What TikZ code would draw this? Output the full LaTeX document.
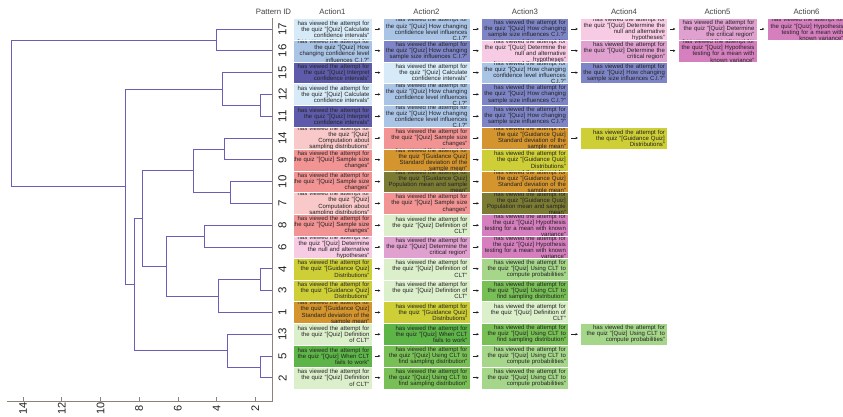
\documentclass[tikz,border=0pt]{standalone}
\usepackage{fontspec}
\setmainfont{Liberation Sans}
\usetikzlibrary{arrows.meta}

\definecolor{linkblue}{RGB}{107,95,181}
\definecolor{axisgray}{RGB}{138,132,120}
\definecolor{inkgray}{RGB}{34,34,34}
\definecolor{colCalc}{RGB}{214,234,247}
\definecolor{colLevel}{RGB}{170,196,230}
\definecolor{colSize}{RGB}{126,133,198}
\definecolor{colInterp}{RGB}{94,92,170}
\definecolor{colComp}{RGB}{249,201,201}
\definecolor{colChange}{RGB}{242,148,148}
\definecolor{colStd}{RGB}{212,149,46}
\definecolor{colPop}{RGB}{123,123,52}
\definecolor{colDef}{RGB}{220,239,203}
\definecolor{colNull}{RGB}{246,203,227}
\definecolor{colCrit}{RGB}{224,160,208}
\definecolor{colDist}{RGB}{206,207,54}
\definecolor{colFail}{RGB}{93,180,71}
\definecolor{colFind}{RGB}{120,192,85}
\definecolor{colProb}{RGB}{165,214,138}
\definecolor{colHyp}{RGB}{213,127,191}

\newcommand{\txtCalc}{has viewed the attempt for\\the quiz "[Quiz] Calculate\\confidence intervals"}
\newcommand{\txtLevel}{has viewed the attempt for\\the quiz "[Quiz] How changing\\confidence level influences\\C.I.?"}
\newcommand{\txtLevelN}{has viewed the attempt for\\the quiz "[Quiz] How\\changing confidence level\\influences C.I.?"}
\newcommand{\txtSize}{has viewed the attempt for\\the quiz "[Quiz] How changing\\sample size influences C.I.?"}
\newcommand{\txtInterp}{has viewed the attempt for\\the quiz "[Quiz] Interpret\\confidence intervals"}
\newcommand{\txtComp}{has viewed the attempt for\\the quiz "[Quiz]\\Computation about\\sampling distributions"}
\newcommand{\txtChange}{has viewed the attempt for\\the quiz "[Quiz] Sample size\\changes"}
\newcommand{\txtStd}{has viewed the attempt for\\the quiz "[Guidance Quiz]\\Standard deviation of the\\sample mean"}
\newcommand{\txtPop}{has viewed the attempt for\\the quiz "[Guidance Quiz]\\Population mean and sample\\mean"}
\newcommand{\txtDef}{has viewed the attempt for\\the quiz "[Quiz] Definition of\\CLT"}
\newcommand{\txtDefN}{has viewed the attempt for\\the quiz "[Quiz] Definition\\of CLT"}
\newcommand{\txtNull}{has viewed the attempt for\\the quiz "[Quiz] Determine the\\null and alternative\\hypotheses"}
\newcommand{\txtNullN}{has viewed the attempt for\\the quiz "[Quiz] Determine\\the null and alternative\\hypotheses"}
\newcommand{\txtCrit}{has viewed the attempt for\\the quiz "[Quiz] Determine the\\critical region"}
\newcommand{\txtCritN}{has viewed the attempt for\\the quiz "[Quiz] Determine\\the critical region"}
\newcommand{\txtDist}{has viewed the attempt for\\the quiz "[Guidance Quiz]\\Distributions"}
\newcommand{\txtFail}{has viewed the attempt for\\the quiz "[Quiz] When CLT\\fails to work"}
\newcommand{\txtFind}{has viewed the attempt for\\the quiz "[Quiz] Using CLT to\\find sampling distribution"}
\newcommand{\txtProb}{has viewed the attempt for\\the quiz "[Quiz] Using CLT to\\compute probabilities"}
\newcommand{\txtHyp}{has viewed the attempt for\\the quiz "[Quiz] Hypothesis\\testing for a mean with known\\variance"}
\newcommand{\txtHypN}{has viewed the attempt for\\the quiz "[Quiz] Hypothesis\\testing for a mean with\\known variance"}

\tikzset{
  link/.style={draw=linkblue, line width=0.8pt},
  axisline/.style={draw=axisgray, line width=0.8pt},
  ticklabel/.style={rotate=90, font=\fontsize{11}{11}\selectfont, text=inkgray, inner sep=0pt},
  leaf/.style={rotate=90, font=\fontsize{11.5}{11.5}\selectfont, text=inkgray, inner sep=0pt},
  head/.style={font=\fontsize{7.8}{8}\selectfont, text=inkgray!85, inner sep=0pt},
  celltext/.style={anchor=east, inner sep=0pt, text width=100pt, align=right,
    font=\fontsize{6}{6.1}\selectfont, text=inkgray, fill=none, draw=none},
  cell/.style 2 args={fill=#1, draw=white, line width=0.3pt, inner sep=0pt,
    minimum height=21.8pt,
    path picture={\node[celltext] at ([xshift=-2.5pt]path picture bounding box.east) {#2};}},
  narrow/.style={minimum width=79pt},
  wide/.style={minimum width=87pt},
  flow/.style={-{Stealth[length=2.4pt,width=2.4pt]}, draw=inkgray, line width=0.7pt,
    shorten <=2.5pt, shorten >=2.5pt},
}

\begin{document}
\begin{tikzpicture}[x=1pt,y=-1pt]
  \useasboundingbox (0,0) rectangle (843,416);

  % dendrogram
  \draw[link] (272,29) -- (216,29) -- (216,50.8) -- (272,50.8);
  \draw[link] (272,94.4) -- (260,94.4) -- (260,116.2) -- (272,116.2);
  \draw[link] (272,72.6) -- (222,72.6) -- (222,105.3) -- (260,105.3);
  \draw[link] (272,138) -- (224,138) -- (224,159.8) -- (272,159.8);
  \draw[link] (272,181.6) -- (230,181.6) -- (230,203.4) -- (272,203.4);
  \draw[link] (224,148.9) -- (193,148.9) -- (193,192.5) -- (230,192.5);
  \draw[link] (272,225.2) -- (204,225.2) -- (204,247) -- (272,247);
  \draw[link] (272,268.8) -- (260,268.8) -- (260,290.6) -- (272,290.6);
  \draw[link] (260,279.7) -- (218,279.7) -- (218,312.4) -- (272,312.4);
  \draw[link] (204,236.1) -- (166,236.1) -- (166,296.05) -- (218,296.05);
  \draw[link] (193,170.7) -- (142,170.7) -- (142,266.08) -- (166,266.08);
  \draw[link] (272,356) -- (260,356) -- (260,377.8) -- (272,377.8);
  \draw[link] (272,334.2) -- (227,334.2) -- (227,366.9) -- (260,366.9);
  \draw[link] (142,218.39) -- (134,218.39) -- (134,350.55) -- (227,350.55);
  \draw[link] (222,88.95) -- (125,88.95) -- (125,284.47) -- (134,284.47);
  \draw[link] (216,39.9) -- (11,39.9) -- (11,186.71) -- (125,186.71);

  % axes
  \draw[axisline] (7,401) -- (272,401) -- (272,18);
  \draw[axisline] (23.1,401) -- (23.1,397) (61.8,401) -- (61.8,397)
    (100.5,401) -- (100.5,397) (139.2,401) -- (139.2,397)
    (177.9,401) -- (177.9,397) (216.6,401) -- (216.6,397) (255.3,401) -- (255.3,397);
  \node[ticklabel] (t14) at (23.1,408.5) {14};
  \node[ticklabel] (t12) at (61.8,408.5) {12};
  \node[ticklabel] (t10) at (100.5,408.5) {10};
  \node[ticklabel] (t8) at (139.2,408.5) {8};
  \node[ticklabel] (t6) at (177.9,408.5) {6};
  \node[ticklabel] (t4) at (216.6,408.5) {4};
  \node[ticklabel] (t2) at (255.3,408.5) {2};

  % pattern ids
  \node[leaf] (id17) at (282.5,29) {17};
  \node[leaf] (id16) at (282.5,50.8) {16};
  \node[leaf] (id15) at (282.5,72.6) {15};
  \node[leaf] (id12) at (282.5,94.4) {12};
  \node[leaf] (id11) at (282.5,116.2) {11};
  \node[leaf] (id14) at (282.5,138) {14};
  \node[leaf] (id9) at (282.5,159.8) {9};
  \node[leaf] (id10) at (282.5,181.6) {10};
  \node[leaf] (id7) at (282.5,203.4) {7};
  \node[leaf] (id8) at (282.5,225.2) {8};
  \node[leaf] (id6) at (282.5,247) {6};
  \node[leaf] (id4) at (282.5,268.8) {4};
  \node[leaf] (id3) at (282.5,290.6) {3};
  \node[leaf] (id1) at (282.5,312.4) {1};
  \node[leaf] (id13) at (282.5,334.2) {13};
  \node[leaf] (id5) at (282.5,356) {5};
  \node[leaf] (id2) at (282.5,377.8) {2};

  % headers
  \node[head] (pid) at (273.5,12) {Pattern ID};
  \node[head] (h1) at (332.5,12) {Action1};
  \node[head] (h2) at (426.5,12) {Action2};
  \node[head] (h3) at (525,12) {Action3};
  \node[head] (h4) at (624,12) {Action4};
  \node[head] (h5) at (717.5,12) {Action5};
  \node[head] (h6) at (806.5,12) {Action6};

  % action cells
  \node[cell={colCalc}{\txtCalc}, narrow] (a1-17) at (332.5,29) {};
  \node[cell={colLevel}{\txtLevel}, wide] (a2-17) at (426.5,29) {};
  \node[cell={colSize}{\txtSize}, wide] (a3-17) at (525,29) {};
  \node[cell={colNull}{\txtNull}, wide] (a4-17) at (624,29) {};
  \node[cell={colCrit}{\txtCritN}, narrow] (a5-17) at (717.5,29) {};
  \node[cell={colHyp}{\txtHypN}, narrow] (a6-17) at (806.5,29) {};

  \node[cell={colLevel}{\txtLevelN}, narrow] (a1-16) at (332.5,50.8) {};
  \node[cell={colSize}{\txtSize}, wide] (a2-16) at (426.5,50.8) {};
  \node[cell={colNull}{\txtNull}, wide] (a3-16) at (525,50.8) {};
  \node[cell={colCrit}{\txtCrit}, wide] (a4-16) at (624,50.8) {};
  \node[cell={colHyp}{\txtHypN}, narrow] (a5-16) at (717.5,50.8) {};

  \node[cell={colInterp}{\txtInterp}, narrow] (a1-15) at (332.5,72.6) {};
  \node[cell={colCalc}{\txtCalc}, wide] (a2-15) at (426.5,72.6) {};
  \node[cell={colLevel}{\txtLevel}, wide] (a3-15) at (525,72.6) {};
  \node[cell={colSize}{\txtSize}, wide] (a4-15) at (624,72.6) {};

  \node[cell={colCalc}{\txtCalc}, narrow] (a1-12) at (332.5,94.4) {};
  \node[cell={colLevel}{\txtLevel}, wide] (a2-12) at (426.5,94.4) {};
  \node[cell={colSize}{\txtSize}, wide] (a3-12) at (525,94.4) {};

  \node[cell={colInterp}{\txtInterp}, narrow] (a1-11) at (332.5,116.2) {};
  \node[cell={colLevel}{\txtLevel}, wide] (a2-11) at (426.5,116.2) {};
  \node[cell={colSize}{\txtSize}, wide] (a3-11) at (525,116.2) {};

  \node[cell={colComp}{\txtComp}, narrow] (a1-14) at (332.5,138) {};
  \node[cell={colChange}{\txtChange}, wide] (a2-14) at (426.5,138) {};
  \node[cell={colStd}{\txtStd}, wide] (a3-14) at (525,138) {};
  \node[cell={colDist}{\txtDist}, wide] (a4-14) at (624,138) {};

  \node[cell={colChange}{\txtChange}, narrow] (a1-9) at (332.5,159.8) {};
  \node[cell={colStd}{\txtStd}, wide] (a2-9) at (426.5,159.8) {};
  \node[cell={colDist}{\txtDist}, wide] (a3-9) at (525,159.8) {};

  \node[cell={colChange}{\txtChange}, narrow] (a1-10) at (332.5,181.6) {};
  \node[cell={colPop}{\txtPop}, wide] (a2-10) at (426.5,181.6) {};
  \node[cell={colStd}{\txtStd}, wide] (a3-10) at (525,181.6) {};

  \node[cell={colComp}{\txtComp}, narrow] (a1-7) at (332.5,203.4) {};
  \node[cell={colChange}{\txtChange}, wide] (a2-7) at (426.5,203.4) {};
  \node[cell={colPop}{\txtPop}, wide] (a3-7) at (525,203.4) {};

  \node[cell={colChange}{\txtChange}, narrow] (a1-8) at (332.5,225.2) {};
  \node[cell={colDef}{\txtDef}, wide] (a2-8) at (426.5,225.2) {};
  \node[cell={colHyp}{\txtHyp}, wide] (a3-8) at (525,225.2) {};

  \node[cell={colNull}{\txtNullN}, narrow] (a1-6) at (332.5,247) {};
  \node[cell={colCrit}{\txtCrit}, wide] (a2-6) at (426.5,247) {};
  \node[cell={colHyp}{\txtHyp}, wide] (a3-6) at (525,247) {};

  \node[cell={colDist}{\txtDist}, narrow] (a1-4) at (332.5,268.8) {};
  \node[cell={colDef}{\txtDef}, wide] (a2-4) at (426.5,268.8) {};
  \node[cell={colProb}{\txtProb}, wide] (a3-4) at (525,268.8) {};

  \node[cell={colDist}{\txtDist}, narrow] (a1-3) at (332.5,290.6) {};
  \node[cell={colDef}{\txtDef}, wide] (a2-3) at (426.5,290.6) {};
  \node[cell={colFind}{\txtFind}, wide] (a3-3) at (525,290.6) {};

  \node[cell={colStd}{\txtStd}, narrow] (a1-1) at (332.5,312.4) {};
  \node[cell={colDist}{\txtDist}, wide] (a2-1) at (426.5,312.4) {};
  \node[cell={colDef}{\txtDef}, wide] (a3-1) at (525,312.4) {};

  \node[cell={colDef}{\txtDefN}, narrow] (a1-13) at (332.5,334.2) {};
  \node[cell={colFail}{\txtFail}, wide] (a2-13) at (426.5,334.2) {};
  \node[cell={colFind}{\txtFind}, wide] (a3-13) at (525,334.2) {};
  \node[cell={colProb}{\txtProb}, wide] (a4-13) at (624,334.2) {};

  \node[cell={colFail}{\txtFail}, narrow] (a1-5) at (332.5,356) {};
  \node[cell={colFind}{\txtFind}, wide] (a2-5) at (426.5,356) {};
  \node[cell={colProb}{\txtProb}, wide] (a3-5) at (525,356) {};

  \node[cell={colDef}{\txtDefN}, narrow] (a1-2) at (332.5,377.8) {};
  \node[cell={colFind}{\txtFind}, wide] (a2-2) at (426.5,377.8) {};
  \node[cell={colProb}{\txtProb}, wide] (a3-2) at (525,377.8) {};

  % sequence arrows
  \draw[flow] (a1-17) -- (a2-17); \draw[flow] (a2-17) -- (a3-17); \draw[flow] (a3-17) -- (a4-17);
  \draw[flow] (a4-17) -- (a5-17); \draw[flow] (a5-17) -- (a6-17);
  \draw[flow] (a1-16) -- (a2-16); \draw[flow] (a2-16) -- (a3-16); \draw[flow] (a3-16) -- (a4-16);
  \draw[flow] (a4-16) -- (a5-16);
  \draw[flow] (a1-15) -- (a2-15); \draw[flow] (a2-15) -- (a3-15); \draw[flow] (a3-15) -- (a4-15);
  \draw[flow] (a1-12) -- (a2-12); \draw[flow] (a2-12) -- (a3-12);
  \draw[flow] (a1-11) -- (a2-11); \draw[flow] (a2-11) -- (a3-11);
  \draw[flow] (a1-14) -- (a2-14); \draw[flow] (a2-14) -- (a3-14); \draw[flow] (a3-14) -- (a4-14);
  \draw[flow] (a1-9) -- (a2-9); \draw[flow] (a2-9) -- (a3-9);
  \draw[flow] (a1-10) -- (a2-10); \draw[flow] (a2-10) -- (a3-10);
  \draw[flow] (a1-7) -- (a2-7); \draw[flow] (a2-7) -- (a3-7);
  \draw[flow] (a1-8) -- (a2-8); \draw[flow] (a2-8) -- (a3-8);
  \draw[flow] (a1-6) -- (a2-6); \draw[flow] (a2-6) -- (a3-6);
  \draw[flow] (a1-4) -- (a2-4); \draw[flow] (a2-4) -- (a3-4);
  \draw[flow] (a1-3) -- (a2-3); \draw[flow] (a2-3) -- (a3-3);
  \draw[flow] (a1-1) -- (a2-1); \draw[flow] (a2-1) -- (a3-1);
  \draw[flow] (a1-13) -- (a2-13); \draw[flow] (a2-13) -- (a3-13); \draw[flow] (a3-13) -- (a4-13);
  \draw[flow] (a1-5) -- (a2-5); \draw[flow] (a2-5) -- (a3-5);
  \draw[flow] (a1-2) -- (a2-2); \draw[flow] (a2-2) -- (a3-2);
\end{tikzpicture}
\end{document}
